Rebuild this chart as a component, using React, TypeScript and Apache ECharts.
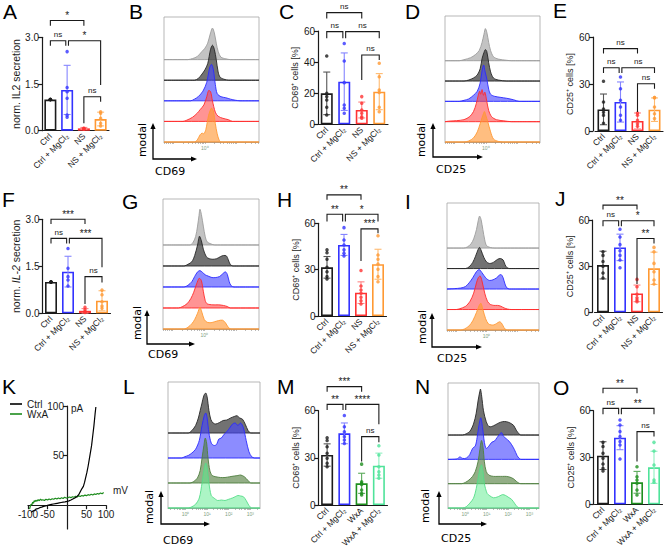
import React, { useEffect, useRef } from "react";
import * as echarts from "echarts";

const FONT = "'Liberation Sans', Arial, Helvetica, sans-serif";
const FLOW_FONT = "'DejaVu Sans', Verdana, sans-serif";
const INK = "#1a1a1a";

// ---------------- categories ----------------
const CAT_NS = ["Ctrl", "Ctrl + MgCl₂", "NS", "NS + MgCl₂"];
const CAT_WXA = ["Ctrl", "Ctrl + MgCl₂", "WxA", "WxA + MgCl₂"];

// ---------------- tick labels ----------------
const TICKS_IL2 = ["0.0", "1.5", "3.0"];
const TICKS_60_20 = ["0", "20", "40", "60"];
const TICKS_60_30 = ["0", "30", "60"];
const K_X_TICKS = [-100, -50, 50, 100];
const K_Y_TICKS = [50, 100];
const K_X_RANGE = [-100, 100];
const K_Y_RANGE = [-24, 100];
const HIST_A_LABELS = ["10⁰"];
const HIST_B_LABELS = ["10⁰", "10¹", "10²", "10³"];

// ---------------- colours ----------------
const COL_NS = ["#1c1c1c", "#3333ff", "#ff3333", "#ff9933"];
const COL_WXA = ["#1c1c1c", "#3333ff", "#1f8f1f", "#4fe39a"];
const ERR_NS = ["#555555", "#8585ff", "#ff8585", "#ffba70"];
const ERR_WXA = ["#555555", "#8585ff", "#5aaa5a", "#8ff0c0"];

// ---------------- panel A ----------------
const A_MEAN = [1.0, 1.31, 0.075, 0.375];
const A_SD = [0, 0.79, 0.03, 0.22];
const A_POINTS = [[1, 1, 1, 1, 1], [2.54, 1.39, 1.25, 1.04, 0.5, 0.43], [0.08, 0.07, 0.06, 0.05], [0.61, 0.56, 0.4, 0.24, 0.15]];
const A_BRACKETS = [[0, 2, 3.54, 3.37, 3.37, 0, 0], [0, 1, 2.89, 2.73, 2.73, 0, -0.08], [1, 3, 2.89, 2.73, 1.47, 0.08, 0], [2, 3, 1.09, 0.24, 0.93, 0, 0]];
const A_SIG = ["*", "ns", "*", "ns"];

// ---------------- panel C ----------------
const C_MEAN = [19.9, 27.4, 9.2, 21];
const C_SD = [13.7, 18.5, 5.1, 11.6];
const C_POINTS = [[43.9, 19.9, 17.8, 15.6, 10.9, 6], [52, 40.7, 26.8, 12.4, 10.3, 7.1], [17.8, 13.5, 9.2, 7.1, 4.9, 3.9], [39.2, 30.6, 22, 20.4, 10.9, 8.1]];
const C_BRACKETS = [[0, 2, 71.8, 68.1, 68.1, 0, 0], [0, 1, 59.6, 55.3, 55.3, 0, -0.08], [1, 3, 59.6, 55.3, 55.3, 0.08, 0], [2, 3, 44.6, 28.5, 41.4, 0, 0]];
const C_SIG = ["ns", "ns", "ns", "ns"];

// ---------------- panel E ----------------
const E_MEAN = [13.8, 18.5, 6.4, 13.6];
const E_SD = [9.8, 12.8, 5.1, 7.5];
const E_POINTS = [[31.7, 18.5, 14, 12, 10, 5], [34.5, 27, 19.6, 15.3, 10, 6.8], [11.5, 10, 6.8, 4.7, 3], [21.3, 21.3, 15.3, 11, 7.9]];
const E_BRACKETS = [[0, 2, 52.6, 49.4, 49.4, 0, 0], [0, 1, 40.4, 37, 37, 0, -0.08], [1, 3, 40.4, 37, 37, 0.08, 0], [2, 3, 30.2, 12.1, 27, 0, 0]];
const E_SIG = ["ns", "ns", "ns", "ns"];

// ---------------- panel F ----------------
const F_MEAN = [1.0, 1.33, 0.08, 0.4];
const F_SD = [0, 0.49, 0.07, 0.32];
const F_POINTS = [[1, 1, 1, 1, 1], [2.07, 1.44, 1.17, 1.06, 0.87], [0.19, 0.11, 0.05, 0.03], [0.74, 0.59, 0.37, 0.23, 0.16]];
const F_BRACKETS = [[0, 2, 3.0, 2.85, 2.85, 0, 0], [0, 1, 2.39, 2.23, 2.23, 0, -0.08], [1, 3, 2.39, 2.23, 1.47, 0.08, 0], [2, 3, 1.17, 0.3, 0.98, 0, 0]];
const F_SIG = ["***", "ns", "***", "ns"];

// ---------------- panel H ----------------
const H_MEAN = [31.5, 46, 15.1, 33.5];
const H_SD = [7, 6.8, 7, 9.7];
const H_POINTS = [[42.8, 41, 36.7, 31.5, 28.7, 25.5, 24], [57.2, 49.2, 46, 42.8, 40.6, 38.9], [29.4, 19.4, 16.8, 14.7, 12.1, 9.9, 7.8], [52, 39.5, 36.7, 33.7, 30.2, 25.5, 22.2]];
const H_BRACKETS = [[0, 2, 78.4, 75.2, 75.2, 0, 0], [0, 1, 65.9, 61.1, 61.1, 0, -0.08], [1, 3, 65.9, 61.1, 61.1, 0.08, 0], [2, 3, 56.4, 35.6, 53.6, 0, 0]];
const H_SIG = ["**", "**", "*", "***"];

// ---------------- panel J ----------------
const J_MEAN = [30.7, 42.2, 12.3, 28.6];
const J_SD = [9, 8.6, 5.4, 10.5];
const J_POINTS = [[39.4, 37, 33, 30, 25.5, 22.3], [54, 49, 44, 40, 37, 34, 29], [21.4, 16.6, 11.7, 9.5, 8, 6.9], [42.2, 39.4, 31.8, 26.4, 21, 18.4]];
const J_BRACKETS = [[0, 2, 69.7, 66.9, 66.9, 0, 0], [0, 1, 59.5, 56, 56, 0, -0.08], [1, 3, 59.5, 56, 56, 0.08, 0], [2, 3, 48, 18.4, 44.8, 0, 0]];
const J_SIG = ["**", "ns", "*", "**"];

// ---------------- panel M ----------------
const M_MEAN = [31.8, 45.6, 13.8, 25];
const M_SD = [7.1, 6.6, 6.4, 8];
const M_POINTS = [[42.8, 41, 37, 32.9, 29.7, 26.5, 24.4], [57, 49.8, 46.6, 43.5, 41.3, 39.2], [26, 14.8, 13.8, 13, 9.5, 7.4, 6.4], [37.7, 31.8, 24.4, 21.2, 19.1, 17]];
const M_BRACKETS = [[0, 2, 75.3, 72.1, 72.1, 0, 0], [0, 1, 64, 60.4, 60.4, 0, -0.08], [1, 3, 64, 60.4, 51.3, 0.08, 0], [2, 3, 43.5, 27.6, 39.9, 0, 0]];
const M_SIG = ["***", "**", "****", "ns"];

// ---------------- panel O ----------------
const O_MEAN = [31.2, 42.7, 14.1, 23.7];
const O_SD = [8.9, 7.7, 7, 10.3];
const O_POINTS = [[39.7, 37, 32.7, 29.5, 25.9, 23.1, 21.4], [54, 50.9, 46.6, 43.4, 40.2, 38, 29], [24.1, 17.7, 15.6, 13.5, 9.2, 6], [39.7, 34.2, 25.2, 15.6, 14.1]];
const O_BRACKETS = [[0, 2, 74.4, 71.2, 71.2, 0, 0], [0, 1, 61.5, 57.7, 57.7, 0, -0.08], [1, 3, 61.5, 57.7, 57.7, 0.08, 0], [2, 3, 46.6, 27.4, 43.4, 0, 0]];
const O_SIG = ["**", "ns", "**", "ns"];

// ---------------- histograms: [position % of box, height in band units] ----------------
const B_R1 = [[0, 0], [25, 0], [30, 0.05], [35, 0.15], [40, 0.4], [43, 0.55], [46, 0.8], [49, 1.3], [51, 1.53], [53, 1.3], [55, 0.8], [57, 0.4], [60, 0.12], [65, 0.04], [70, 0], [100, 0]];
const B_R2 = [[0, 0], [32, 0], [36, 0.08], [40, 0.3], [43, 0.5], [46, 0.8], [49, 1.5], [51, 1.7], [53, 1.5], [55, 1.0], [57, 0.4], [59, 0.15], [63, 0.05], [68, 0], [100, 0]];
const B_R3 = [[0, 0], [28, 0], [32, 0.08], [36, 0.2], [41, 0.47], [45, 0.9], [48, 1.6], [50, 1.77], [52, 1.5], [54, 0.8], [56, 0.35], [60, 0.2], [65, 0.15], [70, 0.08], [75, 0.03], [80, 0], [100, 0]];
const B_R4 = [[0, 0], [20, 0], [24, 0.06], [30, 0.2], [35, 0.4], [38, 0.57], [42, 0.8], [45, 1.2], [47, 1.5], [49, 1.45], [51, 1.0], [54, 0.45], [57, 0.25], [62, 0.15], [68, 0.08], [72, 0], [100, 0]];
const B_R5 = [[0, 0], [32, 0], [35, 0.1], [38, 0.35], [40, 0.43], [42, 0.4], [44, 0.6], [47, 1.3], [50, 1.65], [52, 1.5], [54, 0.9], [56, 0.4], [58, 0.1], [60, 0], [100, 0]];

const D_R1 = [[0, 0], [15, 0], [20, 0.05], [27, 0.15], [32, 0.3], [36, 0.5], [39, 0.9], [41, 1.3], [42.5, 1.58], [44, 1.4], [46, 0.9], [48, 0.5], [51, 0.2], [56, 0.08], [65, 0.02], [70, 0], [100, 0]];
const D_R2 = [[0, 0], [20, 0], [25, 0.05], [30, 0.15], [34, 0.3], [37, 0.6], [39, 1.1], [41, 1.4], [42.5, 1.55], [44, 1.45], [46, 0.9], [48, 0.45], [51, 0.15], [56, 0.05], [65, 0], [100, 0]];
const D_R3 = [[0, 0], [15, 0], [20, 0.05], [25, 0.12], [30, 0.3], [34, 0.5], [37, 0.9], [39, 1.5], [40.7, 1.79], [42, 1.5], [44, 1.1], [46, 0.6], [48, 0.35], [52, 0.25], [58, 0.2], [65, 0.15], [72, 0.08], [78, 0], [100, 0]];
const D_R4 = [[0, 0], [5, 0.03], [12, 0.05], [20, 0.1], [26, 0.25], [30, 0.5], [33, 0.9], [35, 1.3], [36.5, 1.5], [37.5, 1.35], [39, 1.58], [40.5, 1.3], [42, 1.45], [44, 1.0], [46, 0.55], [49, 0.25], [54, 0.1], [62, 0.04], [70, 0], [100, 0]];
const D_R5 = [[0, 0], [20, 0], [25, 0.05], [30, 0.2], [34, 0.5], [37, 0.9], [39, 1.2], [40.5, 1.4], [41.5, 1.5], [43, 1.3], [45, 1.0], [48, 0.5], [51, 0.15], [56, 0.03], [62, 0], [100, 0]];

const G_R1 = [[0, 0], [28, 0], [31, 0.1], [34, 0.4], [36, 0.9], [37.5, 1.4], [38.5, 1.7], [40, 1.45], [42, 0.9], [44, 0.4], [46, 0.15], [50, 0.05], [54, 0], [100, 0]];
const G_R2 = [[0, 0], [22, 0], [26, 0.08], [30, 0.2], [33, 0.5], [36, 1.0], [38, 1.42], [40, 1.2], [42, 0.8], [45, 0.45], [48, 0.35], [52, 0.32], [56, 0.35], [60, 0.45], [63, 0.5], [66, 0.48], [68, 0.3], [70, 0.08], [73, 0], [100, 0]];
const G_R3 = [[0, 0], [22, 0], [26, 0.08], [30, 0.25], [33, 0.5], [36, 0.72], [38.5, 0.78], [41, 0.7], [44, 0.58], [47, 0.52], [51, 0.45], [55, 0.45], [59, 0.5], [62, 0.62], [65, 0.72], [67, 0.6], [69, 0.25], [71, 0.06], [74, 0], [100, 0]];
const G_R4 = [[0, 0], [16, 0], [20, 0.06], [25, 0.2], [29, 0.45], [32, 0.75], [35, 1.15], [37.8, 1.42], [40, 1.3], [42, 0.8], [44, 0.35], [46, 0.2], [52, 0.15], [58, 0.15], [63, 0.12], [67, 0.07], [70, 0], [100, 0]];
const G_R5 = [[0, 0], [22, 0], [26, 0.08], [30, 0.25], [33, 0.45], [36, 0.75], [38.5, 1.03], [40.5, 0.8], [43, 0.45], [46, 0.32], [50, 0.3], [54, 0.35], [58, 0.4], [62, 0.42], [65, 0.3], [68, 0.08], [71, 0], [100, 0]];

const I_R1 = [[0, 0], [18, 0], [22, 0.05], [26, 0.2], [29, 0.45], [32, 0.9], [34, 1.35], [35.4, 1.56], [37, 1.4], [39, 0.9], [41, 0.4], [43, 0.12], [47, 0.03], [52, 0], [100, 0]];
const I_R2 = [[0, 0], [20, 0], [24, 0.08], [28, 0.3], [31, 0.6], [34, 0.95], [35.4, 1.03], [37, 0.9], [40, 0.55], [43, 0.32], [46, 0.25], [49, 0.27], [52, 0.35], [55, 0.45], [58, 0.49], [61, 0.42], [63, 0.2], [65, 0.05], [68, 0], [100, 0]];
const I_R3 = [[0, 0], [8, 0.02], [15, 0.05], [20, 0.12], [24, 0.3], [28, 0.55], [32, 0.85], [35, 0.95], [38, 0.8], [42, 0.55], [46, 0.42], [50, 0.45], [54, 0.55], [57, 0.68], [59, 0.7], [61, 0.55], [63, 0.25], [65, 0.06], [68, 0], [100, 0]];
const I_R4 = [[0, 0], [10, 0], [14, 0.04], [20, 0.15], [25, 0.4], [29, 0.8], [32, 1.3], [34, 1.55], [36, 1.64], [38, 1.4], [41, 0.8], [44, 0.4], [47, 0.25], [51, 0.2], [55, 0.2], [58, 0.17], [62, 0.08], [66, 0.02], [70, 0], [100, 0]];
const I_R5 = [[0, 0], [15, 0], [19, 0.05], [24, 0.2], [28, 0.45], [32, 0.85], [35, 1.2], [36.8, 1.31], [39, 1.0], [42, 0.55], [45, 0.3], [48, 0.25], [51, 0.25], [54, 0.32], [57, 0.4], [59, 0.35], [61, 0.2], [63, 0.05], [66, 0], [100, 0]];

const L_R1 = [[0, 0], [22, 0], [26, 0.1], [30, 0.3], [33, 0.6], [35, 0.9], [37, 1.2], [39, 1.5], [41, 1.6], [42.5, 1.45], [44.5, 0.9], [46.5, 0.55], [49, 0.4], [52, 0.36], [56, 0.42], [60, 0.5], [64, 0.52], [68, 0.6], [72, 0.66], [75, 0.69], [78, 0.6], [81, 0.55], [84, 0.35], [87, 0.1], [90, 0], [100, 0]];
const L_R2 = [[0, 0], [15, 0], [18, 0.05], [22, 0.1], [26, 0.2], [30, 0.35], [34, 0.7], [37, 1.3], [39.5, 1.7], [41, 1.8], [42.5, 1.6], [44.5, 1.0], [47, 0.6], [50, 0.5], [53, 0.55], [55, 0.75], [58, 0.8], [61, 0.95], [64, 1.05], [67, 1.2], [70, 1.35], [73, 1.4], [76, 1.3], [79, 1.4], [82, 1.2], [85, 0.7], [88, 0.25], [91, 0.05], [94, 0], [100, 0]];
const L_R3 = [[0, 0], [24, 0], [28, 0.06], [32, 0.2], [35, 0.5], [37, 1.0], [39, 1.5], [40.5, 1.8], [42, 1.6], [43.5, 1.0], [45.5, 0.5], [48, 0.3], [52, 0.25], [57, 0.22], [62, 0.22], [67, 0.25], [72, 0.28], [76, 0.3], [79, 0.32], [83, 0.25], [87, 0.1], [90, 0], [100, 0]];
const L_R4 = [[0, 0], [22, 0], [26, 0.05], [30, 0.15], [34, 0.4], [37, 1.0], [39, 1.5], [41, 1.8], [42.5, 1.6], [44.5, 1.0], [47, 0.5], [50, 0.4], [54, 0.3], [58, 0.32], [62, 0.3], [66, 0.35], [70, 0.4], [73, 0.45], [76, 0.5], [79, 0.48], [82, 0.45], [85, 0.3], [88, 0.1], [91, 0], [100, 0]];

const N_R1 = [[0, 0], [16, 0], [20, 0.05], [24, 0.15], [28, 0.45], [31, 0.9], [33, 1.4], [35, 1.8], [35.7, 1.89], [37, 1.6], [39, 1.0], [42, 0.55], [45, 0.35], [48, 0.35], [52, 0.42], [56, 0.5], [60, 0.55], [64, 0.55], [68, 0.5], [72, 0.4], [75, 0.2], [78, 0.05], [80, 0], [100, 0]];
const N_R2 = [[0, 0], [10, 0.02], [13, 0.1], [16, 0.04], [20, 0.05], [24, 0.2], [27, 0.45], [30, 0.55], [32, 0.9], [34, 1.4], [36, 1.71], [38, 1.3], [40, 0.7], [42, 0.45], [45, 0.55], [48, 0.7], [51, 0.75], [54, 0.9], [56, 1.0], [58.8, 1.1], [61, 0.95], [64, 0.85], [67, 0.75], [70, 0.6], [73, 0.4], [76, 0.15], [78, 0.05], [80, 0], [100, 0]];
const N_R3 = [[0, 0], [15, 0], [19, 0.05], [23, 0.15], [27, 0.3], [30, 0.5], [33, 0.9], [35, 1.4], [36.8, 1.78], [38.5, 1.5], [40, 0.9], [42, 0.5], [45, 0.35], [50, 0.3], [55, 0.3], [60, 0.3], [64, 0.3], [68, 0.27], [72, 0.2], [75, 0.1], [78, 0.02], [80, 0], [100, 0]];
const N_R4 = [[0, 0], [16, 0], [20, 0.05], [24, 0.2], [28, 0.4], [31, 0.8], [33, 1.2], [35, 1.6], [36.8, 1.78], [38.5, 1.5], [40, 1.0], [43, 0.6], [46, 0.5], [50, 0.42], [54, 0.45], [57, 0.5], [60, 0.55], [63, 0.52], [66, 0.45], [70, 0.35], [73, 0.2], [76, 0.05], [79, 0], [100, 0]];

const H5_FILL = ["rgba(170,170,170,0.7)", "rgba(60,60,60,0.72)", "rgba(70,70,255,0.62)", "rgba(255,70,70,0.58)", "rgba(255,150,50,0.62)"];
const H5_LINE = ["#9c9c9c", "#262626", "#2a2aff", "#ff2a2a", "#ff9933"];
const H4_FILL = ["rgba(60,60,60,0.72)", "rgba(70,70,255,0.62)", "rgba(80,125,60,0.62)", "rgba(90,235,140,0.5)"];
const H4_LINE = ["#262626", "#2a2aff", "#4f7f3f", "#55dd88"];

// ---------------- panel K (I/V curves) ----------------
const K_CTRL_MV = [-92, -88, -84, -80, -75, -70, -65, -60, -55, -50, -45, -40, -35, -30, -25, -20, -15, -10, -5, 0, 5, 10, 15, 20, 25, 30, 34, 38, 42, 45, 48, 51, 54, 57, 60, 63, 66, 69, 72, 74];
const K_CTRL_PA = [-7, -6, -5.5, -4, -3.5, -2.5, -2, -1.2, -0.8, -0.2, 0.4, 0.8, 1.2, 1.5, 1.9, 2.3, 2.7, 3, 3.3, 3.8, 4.4, 5.2, 6.2, 7.2, 8.6, 10.5, 13.5, 16.5, 19, 23, 28, 33, 39, 46, 53, 60, 70, 80, 92, 99];
const K_WXA_MV = [-96, -94, -92, -90, -88, -86, -84, -82, -80, -77, -74, -71, -68, -65, -62, -58, -54, -50, -46, -42, -38, -34, -30, -26, -22, -18, -14, -10, -6, -2, 2, 6, 10, 14, 18, 22, 26, 30, 34, 38, 42, 46, 50, 54, 58, 62, 66, 70, 74, 78, 82, 86, 90, 94];
const K_WXA_PA = [-4, -1, 1, 0.5, 3, 2, 4.5, 3.5, 5, 4, 5.5, 4.5, 6, 5, 5.5, 4.8, 6, 5.2, 6.3, 5.5, 6.5, 6, 7, 6.2, 7.2, 6.5, 7.5, 6.8, 8, 7.2, 7.5, 8.2, 7.6, 8.5, 8, 9, 8.3, 9.4, 8.8, 9.8, 9.2, 10.2, 9.6, 10.6, 10, 11, 10.3, 11.4, 10.8, 11.8, 11.2, 12.3, 11.6, 12.8];

// ---------------- helpers ----------------
function logTicks(decades: number[], w: number) {
  const t: number[] = [];
  decades.forEach((d) => {
    for (let k = 1; k <= 9; k++) {
      const v = d + w * Math.log10(k);
      if (v >= 0 && v <= 100) t.push(+v.toFixed(2));
    }
  });
  return t;
}
const HIST_A_TICKS = logTicks([-23, 10, 43, 76], 33);
const HIST_A_LABEL_POS = [43];
const HIST_B_TICKS = logTicks([-4.5, 19, 42.5, 66, 89.5], 23.5);
const HIST_B_LABEL_POS = [19, 42.5, 66, 89.5];

function errorRender(colors: string[]) {
  return (params: any, api: any) => {
    const i = api.value(0), m = api.value(1), s = api.value(2);
    if (!s) return { type: "group", children: [] };
    const hi = api.coord([i, m + s]);
    const lo = api.coord([i, m - s]);
    const st = { stroke: colors[params.dataIndex], lineWidth: 1.1 };
    const w = 3.5;
    return {
      type: "group",
      children: [
        { type: "line", shape: { x1: hi[0], y1: hi[1], x2: lo[0], y2: lo[1] }, style: st },
        { type: "line", shape: { x1: hi[0] - w, y1: hi[1], x2: hi[0] + w, y2: hi[1] }, style: st },
        { type: "line", shape: { x1: lo[0] - w, y1: lo[1], x2: lo[0] + w, y2: lo[1] }, style: st },
      ],
    };
  };
}

function bracketRender(labels: string[]) {
  return (params: any, api: any) => {
    const a = api.value(0), b = api.value(1), y = api.value(2), ya = api.value(3), yb = api.value(4), da = api.value(5), db = api.value(6);
    const bw = api.coord([1, 0])[0] - api.coord([0, 0])[0];
    const pa = api.coord([a, y]);
    const pb = api.coord([b, y]);
    const xa = pa[0] + da * bw;
    const xb = pb[0] + db * bw;
    const yA = api.coord([a, ya])[1];
    const yB = api.coord([b, yb])[1];
    const t = labels[params.dataIndex];
    const star = t.indexOf("*") >= 0;
    return {
      type: "group",
      children: [
        { type: "polyline", shape: { points: [[xa, yA], [xa, pa[1]], [xb, pa[1]], [xb, yB]] }, style: { stroke: INK, lineWidth: 1.1, fill: null } },
        { type: "text", x: (xa + xb) / 2, y: pa[1] - (star ? 0 : 2), style: { text: t, fontSize: star ? 10 : 8, fontFamily: FONT, fill: INK, align: "center", verticalAlign: "bottom" } },
      ],
    };
  };
}

// draws one ridge (a filled, outlined polygon) from all points of its series, through the axis scales
function ridgeRender(count: number, fill: string, stroke: string) {
  return (params: any, api: any) => {
    if (params.dataIndexInside !== 0) return null;
    const pts: number[][] = [];
    for (let i = 0; i < count; i++) pts.push(api.coord([api.value(0, i), api.value(1, i)]));
    let x0 = Infinity, y0 = Infinity, x1 = -Infinity, y1 = -Infinity;
    pts.forEach((p) => { x0 = Math.min(x0, p[0]); y0 = Math.min(y0, p[1]); x1 = Math.max(x1, p[0]); y1 = Math.max(y1, p[1]); });
    return {
      type: "polygon",
      shape: { points: pts, smooth: 0.3, smoothConstraint: [[x0, y0], [x1, y1]] },
      style: { fill, stroke, lineWidth: 0.9 },
    };
  };
}

function buildOption() {
  const grids: any[] = [];
  const xAxes: any[] = [];
  const yAxes: any[] = [];
  const series: any[] = [];
  const graphics: any[] = [];

  const addBar = (cfg: any) => {
    const gi = grids.length;
    grids.push({ left: cfg.box[0], top: cfg.box[1], width: cfg.box[2], height: cfg.box[3], show: false });
    xAxes.push({
      type: "category", gridIndex: gi, data: cfg.cats,
      axisLine: { onZero: false, lineStyle: { color: INK, width: 1.2 } },
      axisTick: { alignWithLabel: true, length: 4, lineStyle: { color: INK, width: 1.2 } },
      axisLabel: { rotate: 45, fontSize: 8.5, color: INK, margin: 4, interval: 0, fontFamily: FONT },
      splitLine: { show: false },
    });
    yAxes.push({
      type: "value", gridIndex: gi, min: 0, max: cfg.max, interval: cfg.interval, offset: cfg.offset || 0,
      name: cfg.name, nameLocation: "middle", nameGap: cfg.nameGap,
      nameTextStyle: { fontSize: cfg.nameSize, color: INK, fontFamily: FONT, rich: { i: { fontStyle: "italic", fontSize: cfg.nameSize, color: INK, fontFamily: FONT } } },
      axisLine: { show: true, onZero: false, lineStyle: { color: INK, width: 1.2 } },
      axisTick: { show: true, length: 4, lineStyle: { color: INK, width: 1.2 } },
      axisLabel: { fontSize: 10, color: INK, margin: 3, fontFamily: FONT, formatter: (v: number) => cfg.ticks[Math.round(v / cfg.interval)] },
      splitLine: { show: false },
    });
    series.push({
      type: "bar", xAxisIndex: gi, yAxisIndex: gi, barWidth: 12, z: 2,
      data: cfg.mean.map((m: number, i: number) => ({ value: m, itemStyle: { color: "rgba(255,255,255,0)", borderColor: cfg.colors[i], borderWidth: 1.6 } })),
    });
    series.push({
      type: "custom", xAxisIndex: gi, yAxisIndex: gi, z: 3, encode: { x: 0, y: 1 },
      data: cfg.mean.map((m: number, i: number) => [i, m, cfg.sd[i]]),
      renderItem: errorRender(cfg.errColors),
    });
    const pts: any[] = [];
    cfg.points.forEach((arr: number[], g: number) => arr.forEach((v) => pts.push({ value: [g, v], itemStyle: { color: cfg.colors[g] } })));
    series.push({ type: "scatter", xAxisIndex: gi, yAxisIndex: gi, z: 4, symbolSize: 3.5, data: pts });
    series.push({
      type: "custom", xAxisIndex: gi, yAxisIndex: gi, z: 5, encode: { x: 0, y: 2 },
      data: cfg.brackets, renderItem: bracketRender(cfg.sig),
    });
  };

  const addHist = (cfg: any) => {
    const gi = grids.length;
    grids.push({ left: cfg.box[0], top: cfg.box[1], width: cfg.box[2], height: cfg.box[3], show: true, borderColor: "#a5a5a5", borderWidth: 0.8 });
    xAxes.push({
      type: "value", gridIndex: gi, min: 0, max: 100,
      axisLine: { onZero: false, lineStyle: { color: "#8c8c8c", width: 0.8 } },
      axisTick: { show: true, customValues: cfg.ticks, length: 2, lineStyle: { color: "#8c8c8c", width: 0.6 } },
      axisLabel: {
        customValues: cfg.labelPos, fontSize: 5, color: "#7f9f7f", margin: 3, fontFamily: FONT,
        formatter: (v: number) => {
          let best = 0;
          cfg.labelPos.forEach((p: number, i: number) => { if (Math.abs(p - v) < Math.abs(cfg.labelPos[best] - v)) best = i; });
          return cfg.labels[best];
        },
      },
      splitLine: { show: false },
    });
    yAxes.push({ type: "value", gridIndex: gi, min: 0, max: cfg.ymax, show: false, axisLine: { onZero: false }, splitLine: { show: false } });
    const n = cfg.ridges.length;
    cfg.ridges.forEach((r: number[][], k: number) => {
      const base = n - 1 - k;
      series.push({
        type: "custom", xAxisIndex: gi, yAxisIndex: gi, z: 2 + k, silent: true, encode: { x: 0, y: 1 },
        data: r.map((p) => [p[0], base + p[1]]),
        renderItem: ridgeRender(r.length, cfg.fills[k], cfg.lines[k]),
      });
    });
    // flow axis arrows and names
    const a = cfg.arrow; // [x, top, corner, right]
    graphics.push({ type: "polyline", shape: { points: [[a[0], a[1] + 4], [a[0], a[2]], [a[3] - 4, a[2]]] }, style: { stroke: "#000", lineWidth: 1.3, fill: null } });
    graphics.push({ type: "polygon", shape: { points: [[a[0] - 2.6, a[1] + 6], [a[0], a[1]], [a[0] + 2.6, a[1] + 6]] }, style: { fill: "#000" } });
    graphics.push({ type: "polygon", shape: { points: [[a[3] - 6, a[2] - 2.6], [a[3], a[2]], [a[3] - 6, a[2] + 2.6]] }, style: { fill: "#000" } });
    graphics.push({ type: "text", x: cfg.modal[0], y: cfg.modal[1], rotation: Math.PI / 2, style: { text: "modal", fontSize: 11, fontFamily: FLOW_FONT, fill: "#000", align: "center", verticalAlign: "middle" } });
    graphics.push({ type: "text", x: cfg.marker[0], y: cfg.marker[1], style: { text: cfg.markerText, fontSize: 11, fontFamily: FLOW_FONT, fill: "#000", align: "left", verticalAlign: "middle" } });
  };

  // ---- bar panels ----
  addBar({ box: [42, 37.3, 67, 93.4], cats: CAT_NS, colors: COL_NS, errColors: ERR_NS, max: 3, interval: 1.5, ticks: TICKS_IL2, name: "norm. IL2 secretion", nameGap: 20, nameSize: 10.5, mean: A_MEAN, sd: A_SD, points: A_POINTS, brackets: A_BRACKETS, sig: A_SIG });
  addBar({ box: [318, 31, 70, 93.3], cats: CAT_NS, colors: COL_NS, errColors: ERR_NS, max: 60, interval: 20, ticks: TICKS_60_20, name: "CD69⁺ cells [%]", nameGap: 18, nameSize: 9, mean: C_MEAN, sd: C_SD, points: C_POINTS, brackets: C_BRACKETS, sig: C_SIG });
  addBar({ box: [595, 37, 68, 94], offset: 2, cats: CAT_NS, colors: COL_NS, errColors: ERR_NS, max: 60, interval: 30, ticks: TICKS_60_30, name: "CD25⁺ cells [%]", nameGap: 16, nameSize: 9, mean: E_MEAN, sd: E_SD, points: E_POINTS, brackets: E_BRACKETS, sig: E_SIG });
  addBar({ box: [42.5, 219.3, 68, 94], cats: CAT_NS, colors: COL_NS, errColors: ERR_NS, max: 3, interval: 1.5, ticks: TICKS_IL2, name: "norm. {i|IL-2} secretion", nameGap: 20, nameSize: 10.5, mean: F_MEAN, sd: F_SD, points: F_POINTS, brackets: F_BRACKETS, sig: F_SIG });
  addBar({ box: [318.5, 223.3, 68, 92.7], cats: CAT_NS, colors: COL_NS, errColors: ERR_NS, max: 60, interval: 30, ticks: TICKS_60_30, name: "CD69⁺ cells [%]", nameGap: 18, nameSize: 9, mean: H_MEAN, sd: H_SD, points: H_POINTS, brackets: H_BRACKETS, sig: H_SIG });
  addBar({ box: [594.5, 220, 68, 92.3], offset: 2, cats: CAT_NS, colors: COL_NS, errColors: ERR_NS, max: 60, interval: 30, ticks: TICKS_60_30, name: "CD25⁺ cells [%]", nameGap: 16, nameSize: 9, mean: J_MEAN, sd: J_SD, points: J_POINTS, brackets: J_BRACKETS, sig: J_SIG });
  addBar({ box: [318.5, 410.7, 69, 94.3], cats: CAT_WXA, colors: COL_WXA, errColors: ERR_WXA, max: 60, interval: 30, ticks: TICKS_60_30, name: "CD69⁺ cells [%]", nameGap: 18, nameSize: 9, mean: M_MEAN, sd: M_SD, points: M_POINTS, brackets: M_BRACKETS, sig: M_SIG });
  addBar({ box: [594.5, 410.7, 68, 93.6], offset: 1, cats: CAT_WXA, colors: COL_WXA, errColors: ERR_WXA, max: 60, interval: 30, ticks: TICKS_60_30, name: "CD25⁺ cells [%]", nameGap: 18, nameSize: 9, mean: O_MEAN, sd: O_SD, points: O_POINTS, brackets: O_BRACKETS, sig: O_SIG });

  // ---- histogram panels ----
  addHist({ box: [164, 17, 95, 125], ymax: 6.07, ridges: [B_R1, B_R2, B_R3, B_R4, B_R5], fills: H5_FILL, lines: H5_LINE, ticks: HIST_A_TICKS, labelPos: HIST_A_LABEL_POS, labels: HIST_A_LABELS, arrow: [153, 123, 159, 197], modal: [142, 140], marker: [155, 171], markerText: "CD69" });
  addHist({ box: [445, 16, 95, 126], ymax: 6.2, ridges: [D_R1, D_R2, D_R3, D_R4, D_R5], fills: H5_FILL, lines: H5_LINE, ticks: HIST_A_TICKS, labelPos: HIST_A_LABEL_POS, labels: HIST_A_LABELS, arrow: [433, 123, 157, 483], modal: [421, 140], marker: [436, 169], markerText: "CD25" });
  addHist({ box: [163, 199, 96, 130], ymax: 6.19, ridges: [G_R1, G_R2, G_R3, G_R4, G_R5], fills: H5_FILL, lines: H5_LINE, ticks: HIST_A_TICKS, labelPos: HIST_A_LABEL_POS, labels: HIST_A_LABELS, arrow: [147, 310, 344, 195], modal: [137, 323], marker: [148, 354], markerText: "CD69" });
  addHist({ box: [447, 203, 92, 127], ymax: 6.2, ridges: [I_R1, I_R2, I_R3, I_R4, I_R5], fills: H5_FILL, lines: H5_LINE, ticks: HIST_A_TICKS, labelPos: HIST_A_LABEL_POS, labels: HIST_A_LABELS, arrow: [432, 313, 347, 482], modal: [422, 327], marker: [437, 358], markerText: "CD25" });
  addHist({ box: [168, 382, 92, 126], ymax: 5.04, ridges: [L_R1, L_R2, L_R3, L_R4], fills: H4_FILL, lines: H4_LINE, ticks: HIST_B_TICKS, labelPos: HIST_B_LABEL_POS, labels: HIST_B_LABELS, arrow: [161, 491, 524, 210], modal: [149, 507], marker: [163, 540], markerText: "CD69" });
  addHist({ box: [448, 383, 91, 125], ymax: 5.14, ridges: [N_R1, N_R2, N_R3, N_R4], fills: H4_FILL, lines: H4_LINE, ticks: HIST_B_TICKS, labelPos: HIST_B_LABEL_POS, labels: HIST_B_LABELS, arrow: [439, 491, 524, 487], modal: [425, 506], marker: [441, 538], markerText: "CD25" });

  // ---- panel K: axes cross at (0, 0) ----
  const gk = grids.length;
  const kBox = [28, 406, 78, 123];
  grids.push({ left: kBox[0], top: kBox[1], width: kBox[2], height: kBox[3], show: false });
  const xAxisShift = -((0 - K_Y_RANGE[0]) / (K_Y_RANGE[1] - K_Y_RANGE[0])) * kBox[3];
  const yAxisShift = -((0 - K_X_RANGE[0]) / (K_X_RANGE[1] - K_X_RANGE[0])) * kBox[2];
  xAxes.push({
    type: "value", gridIndex: gk, min: K_X_RANGE[0], max: K_X_RANGE[1], position: "bottom", offset: xAxisShift,
    axisLine: { onZero: false, lineStyle: { color: INK, width: 1.2 } },
    axisTick: { show: true, customValues: K_X_TICKS, length: 4, lineStyle: { color: INK, width: 1.2 } },
    axisLabel: { customValues: K_X_TICKS, fontSize: 10, color: INK, margin: 4, fontFamily: FONT },
    splitLine: { show: false },
  });
  yAxes.push({
    type: "value", gridIndex: gk, min: K_Y_RANGE[0], max: K_Y_RANGE[1], position: "left", offset: yAxisShift,
    axisLine: { onZero: false, lineStyle: { color: INK, width: 1.2 } },
    axisTick: { show: true, customValues: K_Y_TICKS, length: 4, lineStyle: { color: INK, width: 1.2 } },
    axisLabel: { customValues: K_Y_TICKS, fontSize: 10, color: INK, margin: 3, fontFamily: FONT },
    splitLine: { show: false },
  });
  series.push({ name: "Ctrl", type: "line", xAxisIndex: gk, yAxisIndex: gk, symbol: "none", showSymbol: false, color: "#000", lineStyle: { color: "#000", width: 1.2 }, z: 3, data: K_CTRL_MV.map((v, i) => [v, K_CTRL_PA[i]]) });
  series.push({ name: "WxA", type: "line", xAxisIndex: gk, yAxisIndex: gk, symbol: "none", showSymbol: false, color: "#1e8c1e", lineStyle: { color: "#1e8c1e", width: 1.2 }, z: 2, data: K_WXA_MV.map((v, i) => [v, K_WXA_PA[i]]) });
  graphics.push({ type: "text", x: 71, y: 403, style: { text: "pA", fontSize: 10, fontFamily: FONT, fill: INK } });
  graphics.push({ type: "text", x: 113, y: 485, style: { text: "mV", fontSize: 10, fontFamily: FONT, fill: INK } });

  // ---- panel letters ----
  const letters: [string, number, number][] = [
    ["A", 3, 1], ["B", 129, 1], ["C", 279, 1], ["D", 405, 1], ["E", 553, 0],
    ["F", 2, 189], ["G", 122, 191], ["H", 277, 189], ["I", 405, 191], ["J", 555, 188],
    ["K", 2, 376], ["L", 123, 376], ["M", 277, 376], ["N", 415, 376], ["O", 553, 377],
  ];
  letters.forEach(([t, x, y]) => graphics.push({ type: "text", x, y, style: { text: t, fontSize: 21, fontFamily: FONT, fill: "#000", verticalAlign: "top" } }));

  return {
    animation: false,
    backgroundColor: "#ffffff",
    textStyle: { fontFamily: FONT },
    legend: {
      data: [{ name: "Ctrl", icon: "rect" }, { name: "WxA", icon: "rect" }],
      left: 10, top: 399, orient: "vertical", itemWidth: 12, itemHeight: 1.6, itemGap: 0, padding: 0,
      selectedMode: false, textStyle: { fontSize: 10, color: INK, lineHeight: 10, fontFamily: FONT },
    },
    grid: grids,
    xAxis: xAxes,
    yAxis: yAxes,
    series,
    graphic: graphics,
  };
}

export default function App() {
  const ref = useRef<HTMLDivElement>(null);
  useEffect(() => {
    if (!ref.current) return;
    const chart = echarts.init(ref.current, null, { renderer: "svg", width: 670, height: 555 });
    chart.setOption(buildOption() as any);
    return () => chart.dispose();
  }, []);
  return <div ref={ref} style={{ position: "absolute", left: 0, top: 0, width: 670, height: 555, background: "#fff" }} />;
}
